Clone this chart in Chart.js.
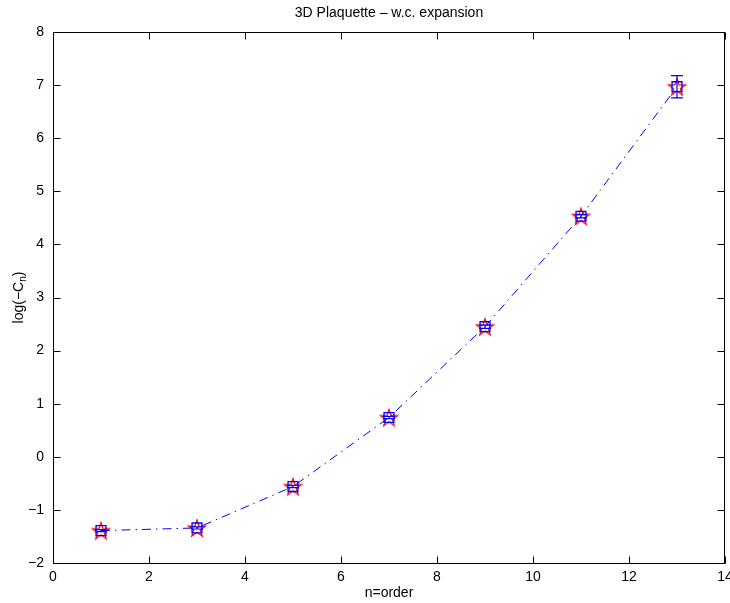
<!DOCTYPE html>
<html>
<head>
  <title>3D Plaquette - w.c. expansion</title>
  <style>
    html, body { margin: 0; padding: 0; background: #fff; overflow: hidden; }
    #wrap { width: 730px; height: 603px; }
    #plot { display: block; }
  </style>
</head>
<body>
  <div id="wrap">
    <canvas id="plot" width="730" height="603"></canvas>
  </div>

  <script src="https://cdn.jsdelivr.net/npm/chart.js"></script>
  <script>
    // values
    const order = [1, 3, 5, 7, 9, 11, 13];
    const logC = [-1.39, -1.34, -0.56, 0.74, 2.45, 4.53, 6.97];
    const errs = [0.02, 0.02, 0.02, 0.02, 0.03, 0.03, 0.21];
    const xTicks = [0, 2, 4, 6, 8, 10, 12, 14];
    const yTicks = [-2, -1, 0, 1, 2, 3, 4, 5, 6, 7, 8];

    const FONT = 'Liberation Sans, Arial, sans-serif';
    const BLUE = '#0000ff';
    const RED = '#ff0000';

    // red pentagram outline used as point image
    function pentagram(R, color) {
      const size = Math.ceil(R * 2 + 4);
      const c = document.createElement('canvas');
      c.width = size; c.height = size;
      const g = c.getContext('2d');
      const cx = size / 2, cy = size / 2 + R * 0.1;
      const r = R * 0.382;
      g.beginPath();
      for (let i = 0; i < 10; i++) {
        const rad = i % 2 ? r : R;
        const a = -Math.PI / 2 + i * Math.PI / 5;
        const px = cx + rad * Math.cos(a), py = cy + rad * Math.sin(a);
        if (i === 0) g.moveTo(px, py); else g.lineTo(px, py);
      }
      g.closePath();
      g.strokeStyle = color;
      g.lineWidth = 1.2;
      g.stroke();
      return c;
    }

    // inward ticks, axes box, titles and error bars, like the matlab figure
    const frame = {
      id: 'frame',
      afterDatasetsDraw(chart) {
        const { ctx, chartArea: a, scales: { x, y } } = chart;
        ctx.save();
        // error bars
        ctx.strokeStyle = BLUE;
        ctx.lineWidth = 1.2;
        order.forEach((n, i) => {
          const px = x.getPixelForValue(n);
          const lo = y.getPixelForValue(logC[i] - errs[i]);
          const hi = y.getPixelForValue(logC[i] + errs[i]);
          ctx.beginPath();
          ctx.moveTo(px, lo); ctx.lineTo(px, hi);
          ctx.moveTo(px - 6, lo); ctx.lineTo(px + 6, lo);
          ctx.moveTo(px - 6, hi); ctx.lineTo(px + 6, hi);
          ctx.stroke();
        });

        // box + ticks
        const L = Math.round(a.left) + 0.5, R = Math.round(a.right) - 0.5;
        const T = Math.round(a.top) + 0.5, B = Math.round(a.bottom) + 0.5;
        ctx.strokeStyle = '#000';
        ctx.lineWidth = 1;
        ctx.strokeRect(L, T, R - L, B - T);
        const tl = 7;
        ctx.beginPath();
        xTicks.forEach(v => {
          const px = Math.round(x.getPixelForValue(v)) + 0.5;
          ctx.moveTo(px, B); ctx.lineTo(px, B - tl);
          ctx.moveTo(px, T); ctx.lineTo(px, T + tl);
        });
        yTicks.forEach(v => {
          const py = Math.round(y.getPixelForValue(v)) + 0.5;
          ctx.moveTo(L, py); ctx.lineTo(L + tl, py);
          ctx.moveTo(R, py); ctx.lineTo(R - tl, py);
        });
        ctx.stroke();

        // x tick labels (drawn here so the last one may run off the edge)
        ctx.fillStyle = '#000';
        ctx.font = '14px ' + FONT;
        ctx.textAlign = 'center';
        ctx.textBaseline = 'middle';
        x.ticks.forEach(t => {
          ctx.fillText(String(t.value), x.getPixelForValue(t.value), 577);
        });

        // titles
        const midX = (a.left + a.right) / 2;
        ctx.fillText('3D Plaquette \u2013 w.c. expansion', midX, 13);
        ctx.fillText('n=order', midX, 593);

        // y label with subscript
        ctx.translate(18, (a.top + a.bottom) / 2);
        ctx.rotate(-Math.PI / 2);
        ctx.textAlign = 'left';
        ctx.textBaseline = 'alphabetic';
        const main = 'log(\u2212C';
        ctx.font = '14px ' + FONT;
        const w1 = ctx.measureText(main).width;
        ctx.font = '10px ' + FONT;
        const w2 = ctx.measureText('n').width;
        ctx.font = '14px ' + FONT;
        const w3 = ctx.measureText(')').width;
        let sx = -(w1 + w2 + w3) / 2;
        ctx.fillText(main, sx, 5);
        sx += w1;
        ctx.font = '10px ' + FONT;
        ctx.fillText('n', sx, 8);
        sx += w2;
        ctx.font = '14px ' + FONT;
        ctx.fillText(')', sx, 5);
        ctx.restore();
      }
    };

    const ctx = document.getElementById('plot').getContext('2d');
    new Chart(ctx, {
      type: 'line',
      data: {
        datasets: [
          {
            data: order.map((n, i) => ({ x: n, y: logC[i] })),
            borderColor: BLUE,
            borderWidth: 1,
            borderDash: [9, 5, 1.5, 5],
            pointStyle: 'rect',
            pointRadius: 7,
            pointBorderColor: BLUE,
            pointBackgroundColor: 'rgba(0,0,0,0)',
            pointBorderWidth: 1.3,
            tension: 0,
            fill: false
          },
          {
            data: order.map((n, i) => ({ x: n, y: logC[i] })),
            showLine: false,
            pointStyle: pentagram(9, RED),
            pointRadius: 9
          }
        ]
      },
      options: {
        responsive: false,
        animation: false,
        layout: { autoPadding: false, padding: { top: 32, right: 5, left: 0, bottom: 0 } },
        plugins: { legend: { display: false }, tooltip: { enabled: false } },
        scales: {
          x: {
            type: 'linear',
            min: 0, max: 14,
            grid: { display: false, drawTicks: false },
            border: { display: false },
            ticks: { stepSize: 2, display: false },
            afterFit(s) { s.height = 40; }
          },
          y: {
            min: -2, max: 8,
            grid: { display: false, drawTicks: false },
            border: { display: false },
            ticks: {
              stepSize: 1,
              padding: 9,
              color: '#000',
              font: { family: FONT, size: 14 },
              callback: v => String(v).replace('-', '\u2212')
            },
            afterFit(s) { s.width = 53; s.paddingTop = 0; s.paddingBottom = 0; }
          }
        }
      },
      plugins: [frame]
    });
  </script>
</body>
</html>
